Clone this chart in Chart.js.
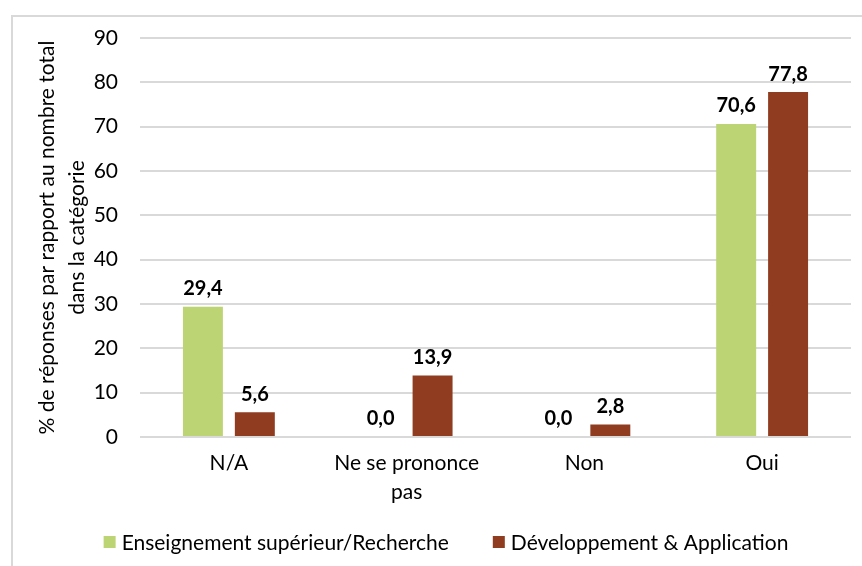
<!DOCTYPE html>
<html>
<head>
<meta charset="utf-8">
<script src="https://cdn.jsdelivr.net/npm/chart.js@4.4.1/dist/chart.umd.min.js"></script>
<style>
  html, body { margin: 0; padding: 0; background: #ffffff; }
  #wrap { position: relative; width: 862px; height: 566px; }
</style>
</head>
<body>
<div id="wrap"><canvas id="c" width="862" height="566"></canvas></div>
<script>
const categories = ['N/A', ['Ne se prononce', 'pas'], 'Non', 'Oui'];
const seriesNames = ['Enseignement supérieur/Recherche', 'Développement & Application'];
const enseignementValues = [29.4, 0.0, 0.0, 70.6];
const developpementValues = [5.6, 13.9, 2.8, 77.8];
const yAxisTitle = ['% de réponses par rapport au nombre total', 'dans la catégorie'];
const yMin = 0, yMax = 90, yStep = 10;

const FONT = 'Lato, "Open Sans", sans-serif';
const FS = 21;
const GREEN = '#bdd474';
const BROWN = '#8f3c20';

const frameAndLabels = {
  id: 'frameAndLabels',
  beforeDraw(chart) {
    const ctx = chart.ctx;
    ctx.save();
    ctx.fillStyle = '#ffffff';
    ctx.fillRect(0, 0, chart.width, chart.height);
    ctx.strokeStyle = '#d9d9d9';
    ctx.lineWidth = 2;
    ctx.strokeRect(12, 16, chart.width + 20, chart.height + 20);
    ctx.restore();
  },
  afterDatasetsDraw(chart) {
    const ctx = chart.ctx;
    ctx.save();
    ctx.font = 'bold 20px ' + FONT;
    ctx.fillStyle = '#000000';
    ctx.textAlign = 'center';
    ctx.textBaseline = 'bottom';
    chart.data.datasets.forEach((ds, i) => {
      const meta = chart.getDatasetMeta(i);
      meta.data.forEach((bar, j) => {
        const v = ds.data[j];
        const txt = v.toFixed(1).replace('.', ',');
        ctx.fillText(txt, bar.x, bar.y - 8);
      });
    });
    // legend
    ctx.font = FS + 'px ' + FONT;
    ctx.textBaseline = 'middle';
    ctx.textAlign = 'left';
    const box = 12, gap = 6, spacing = 44;
    const items = chart.data.datasets.map(ds => ({ label: ds.label, color: ds.backgroundColor, w: ctx.measureText(ds.label).width }));
    let total = 0;
    items.forEach((it, k) => { total += box + gap + it.w + (k ? spacing : 0); });
    let x = 446 - total / 2;
    const y = 542;
    items.forEach((it) => {
      ctx.fillStyle = it.color;
      ctx.fillRect(x, y - box / 2, box, box);
      ctx.fillStyle = '#000000';
      ctx.fillText(it.label, x + box + gap, y + 1);
      x += box + gap + it.w + spacing;
    });
    ctx.restore();
  }
};

new Chart(document.getElementById('c'), {
  type: 'bar',
  data: {
    labels: categories,
    datasets: [
      { label: seriesNames[0], data: enseignementValues, backgroundColor: GREEN, borderWidth: 0 },
      { label: seriesNames[1], data: developpementValues, backgroundColor: BROWN, borderWidth: 0 }
    ]
  },
  options: {
    responsive: false,
    animation: false,
    devicePixelRatio: 1,
    categoryPercentage: 0.584,
    barPercentage: 0.77,
    layout: { padding: { left: 12, right: 11, top: 38, bottom: 0 } },
    plugins: {
      legend: { display: false },
      tooltip: { enabled: false }
    },
    scales: {
      x: {
        grid: { display: false, drawTicks: false },
        border: { display: false },
        ticks: {
          color: '#000000',
          font: { family: FONT, size: FS, lineHeight: 1.38 },
          padding: 12,
          maxRotation: 0,
          autoSkip: false
        },
        afterFit(scale) { scale.height = 566 - 437; }
      },
      y: {
        min: yMin,
        max: yMax,
        ticks: {
          stepSize: yStep,
          color: '#000000',
          font: { family: FONT, size: FS },
          padding: 22
        },
        grid: { color: '#d9d9d9', lineWidth: 2, drawTicks: false },
        border: { display: false },
        title: {
          display: true,
          text: yAxisTitle,
          color: '#000000',
          font: { family: FONT, size: FS, lineHeight: 1.43 },
          padding: { top: 20, bottom: 0 }
        },
        afterFit(scale) { scale.width = 140 - 12; }
      }
    }
  },
  plugins: [frameAndLabels]
});
</script>
</body>
</html>
